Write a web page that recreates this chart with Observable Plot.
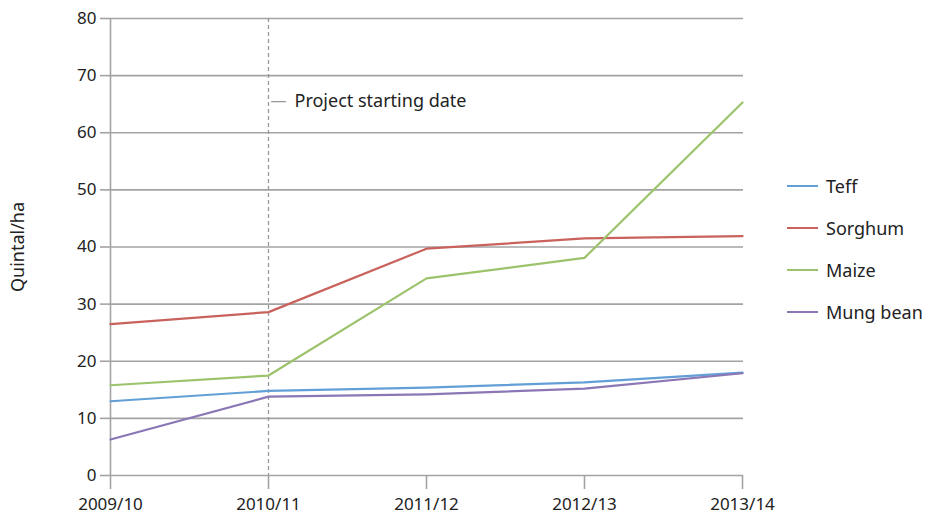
<!DOCTYPE html>
<html>
<head>
<meta charset="utf-8">
<script src="https://cdn.jsdelivr.net/npm/d3@7"></script>
<script src="https://cdn.jsdelivr.net/npm/@observablehq/plot@0.6"></script>
<style>
  html, body { margin: 0; padding: 0; background: #fff; }
  #wrap { position: relative; width: 926px; height: 515px; font-family: "Noto Sans", sans-serif; }
  #legend { position: absolute; left: 787px; top: 165px; font-size: 18px; color: #222; }
  .item { display: flex; align-items: center; height: 42px; }
  .sw { width: 31px; height: 2.5px; margin-right: 8px; }
</style>
</head>
<body>
<div id="wrap"><div id="chart"></div><div id="legend"></div></div>
<script>
const seasons = ["2009/10", "2010/11", "2011/12", "2012/13", "2013/14"];
const crops = ["Teff", "Sorghum", "Maize", "Mung bean"];
const colors = ["#629fd6", "#c9625c", "#9cc36c", "#8b76b6"];
const teff = [13.0, 14.8, 15.4, 16.3, 18.0];
const sorghum = [26.5, 28.6, 39.7, 41.5, 41.9];
const maize = [15.8, 17.5, 34.5, 38.1, 65.3];
const mungBean = [6.3, 13.8, 14.2, 15.2, 17.9];
const yTicks = [0, 10, 20, 30, 40, 50, 60, 70, 80];
const projectStart = "2010/11";
const annotation = "Project starting date";
const annotationY = 65.5;

const series = [teff, sorghum, maize, mungBean];
const data = [];
crops.forEach((c, i) => seasons.forEach((s, j) => data.push({crop: c, season: s, value: series[i][j]})));

const grid = "#a3a3a3";
const chart = Plot.plot({
  width: 926,
  height: 515,
  marginLeft: 109,
  marginRight: 183,
  marginTop: 18,
  marginBottom: 40,
  style: {fontFamily: "Noto Sans, sans-serif", fontSize: "17px", color: "#222"},
  x: {type: "point", domain: seasons, padding: 0},
  y: {domain: [0, 80]},
  color: {domain: crops, range: colors},
  marks: [
    Plot.ruleY(yTicks, {stroke: grid, strokeWidth: 1.6, strokeOpacity: 1}),
    Plot.axisY({ticks: yTicks, tickSize: 9, tickPadding: 4, stroke: grid, strokeWidth: 1.6, label: null, fontSize: 17}),
    Plot.text(["Quintal/ha"], {frameAnchor: "left", textAnchor: "middle", dx: -91, rotate: -90, fontSize: 18}),
    Plot.axisX({tickSize: 14, tickPadding: 8, stroke: grid, strokeWidth: 1.6, label: null, fontSize: 17}),
    Plot.ruleX([seasons[0]], {stroke: grid, strokeWidth: 1.6}),
    Plot.ruleX([projectStart], {stroke: "#999", strokeWidth: 1.3, strokeDasharray: "4,3"}),
    Plot.text([annotationY], {x: () => projectStart, y: d => d, text: () => "—", dx: 2, textAnchor: "start", fill: "#999", fontSize: 16}),
    Plot.text([annotationY], {x: () => projectStart, y: d => d, text: () => annotation, dx: 26, textAnchor: "start", fill: "#222", fontSize: 18}),
    Plot.line(data, {x: "season", y: "value", z: "crop", stroke: "crop", strokeWidth: 2.2})
  ]
});
document.getElementById("chart").append(chart);

const legend = document.getElementById("legend");
crops.forEach((c, i) => {
  const it = document.createElement("div");
  it.className = "item";
  it.innerHTML = `<div class="sw" style="background:${colors[i]}"></div><span>${c}</span>`;
  legend.append(it);
});
</script>
</body>
</html>
